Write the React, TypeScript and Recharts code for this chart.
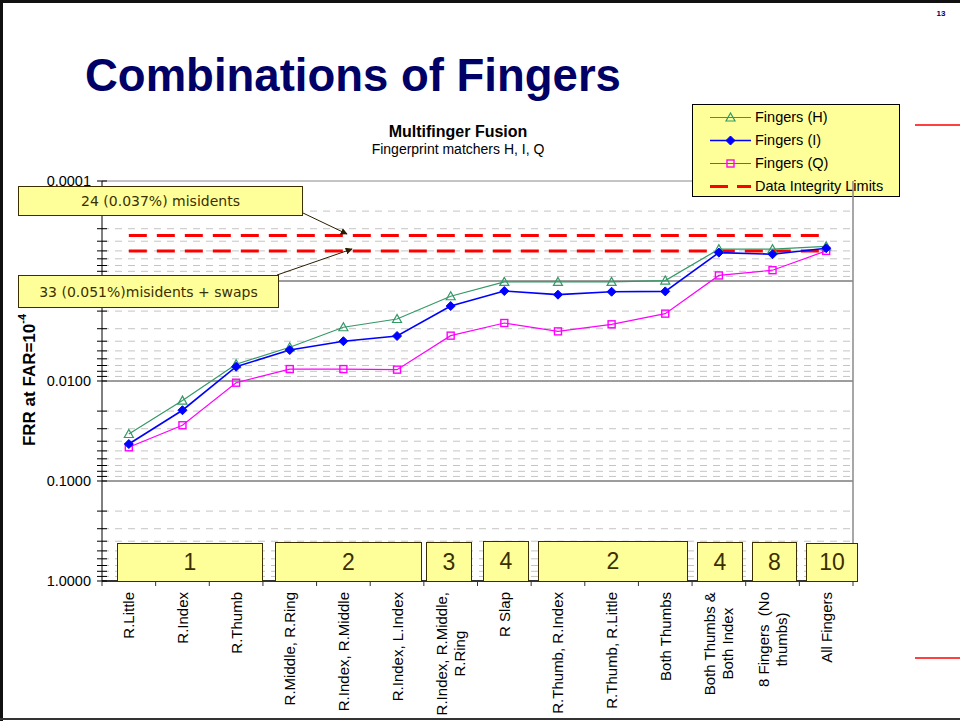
import React from 'react';
import { LineChart, Line, XAxis, YAxis, ReferenceLine, Legend } from 'recharts';

// ---------- data ----------
const categories = [
  'R.Little',
  'R.Index',
  'R.Thumb',
  'R.Middle, R.Ring',
  'R.Index, R.Middle',
  'R.Index, L.Index',
  'R.Index, R.Middle,\nR.Ring',
  'R Slap',
  'R.Thumb, R.Index',
  'R.Thumb, R.Little',
  'Both Thumbs',
  'Both Thumbs &\nBoth Index',
  '8 Fingers  (No\nthumbs)',
  'All Fingers',
];
const fingersH = [0.0339, 0.0157, 0.0068, 0.0046, 0.0029, 0.0024, 0.00142, 0.00102, 0.00102, 0.00102, 0.00099, 0.00048, 0.00048, 0.00045];
const fingersI = [0.0427, 0.0196, 0.0072, 0.0049, 0.0040, 0.00355, 0.00178, 0.00126, 0.00137, 0.00128, 0.00127, 0.00052, 0.00054, 0.00047];
const fingersQ = [0.046, 0.0277, 0.0104, 0.0076, 0.0076, 0.0077, 0.00352, 0.00263, 0.00319, 0.00271, 0.00212, 0.00088, 0.00078, 0.0005];
const limitMisidents = 0.00035;
const limitSwaps = 0.0005;

const yMajorTicks = [0.0001, 0.001, 0.01, 0.1, 1];
const yMinorTicks = [
  0.0002, 0.0003, 0.0004, 0.0005, 0.0006, 0.0007, 0.0008, 0.0009,
  0.002, 0.003, 0.004, 0.005, 0.006, 0.007, 0.008, 0.009,
  0.02, 0.03, 0.04, 0.05, 0.06, 0.07, 0.08, 0.09,
  0.2, 0.3, 0.4, 0.5, 0.6, 0.7, 0.8, 0.9,
];
const groupLabels = ['1', '2', '3', '4', '2', '4', '8', '10'];
const legendLabels = ['Fingers (H)', 'Fingers (I)', 'Fingers (Q)', 'Data Integrity Limits'];
const annotationTexts = ['24 (0.037%) misidents', '33 (0.051%)misidents + swaps'];

// ---------- layout ----------
const W = 960;
const H = 721;
const PLOT_L = 102;
const PLOT_R = 853;
const PLOT_T = 181;
const PLOT_B = 581;
const BAND = (PLOT_R - PLOT_L) / categories.length;
const PAD = BAND / 2;

const groupBoxes = [
  { left: 117, top: 543, width: 146, height: 39 },
  { left: 275, top: 542, width: 147, height: 40 },
  { left: 426, top: 542, width: 46, height: 40 },
  { left: 483, top: 541, width: 46, height: 41 },
  { left: 538, top: 541, width: 150, height: 41 },
  { left: 697, top: 542, width: 46, height: 40 },
  { left: 752, top: 542, width: 45, height: 40 },
  { left: 806, top: 543, width: 52, height: 39 },
];
const annotationBoxes = [
  { left: 18, top: 186, width: 285, height: 30 },
  { left: 18, top: 275, width: 261, height: 33 },
];

const SANS = '"Liberation Sans", Arial, sans-serif';
const TAHOMA = '"DejaVu Sans", Verdana, sans-serif';
const YELLOW = '#FFFF99';
const BROWN = '#3b2f00';

const rows = categories.map((name, i) => ({
  name,
  h: fingersH[i],
  i: fingersI[i],
  q: fingersQ[i],
  limA: limitMisidents,
  limB: limitSwaps,
}));

let measureCtx: CanvasRenderingContext2D | null = null;
function textWidth(s: string, font: string): number {
  if (typeof document === 'undefined') return s.length * 7;
  if (!measureCtx) measureCtx = document.createElement('canvas').getContext('2d');
  if (!measureCtx) return s.length * 7;
  measureCtx.font = font;
  return measureCtx.measureText(s).width;
}

const isMajor = (v: number) => yMajorTicks.indexOf(v) >= 0;

const YTick = (props: any) => {
  const { x, y, payload } = props;
  const v = payload.value as number;
  const major = isMajor(v);
  return (
    <g>
      <line x1={x - 5} x2={x + 5} y1={y} y2={y} stroke="#000" strokeWidth={1} />
      {major && (
        <text x={x - 11} y={y} textAnchor="end" dominantBaseline="central" fontFamily={SANS} fontSize={14.5} fill="#000">
          {v.toFixed(4)}
        </text>
      )}
    </g>
  );
};

const XTick = (props: any) => {
  const { x, y, payload, index } = props;
  const lines = String(payload.value).split('\n');
  const font = `15px ${SANS}`;
  const wMax = Math.max(...lines.map((l) => textWidth(l, font)));
  const lh = 18;
  const ty = y + 11;
  return (
    <g>
      <line x1={x - PAD} x2={x - PAD} y1={y} y2={y + 5} stroke="#333" />
      {index === categories.length - 1 && <line x1={x + PAD} x2={x + PAD} y1={y} y2={y + 5} stroke="#333" />}
      <g transform={`translate(${x},${ty}) rotate(-90)`}>
        {lines.map((l, k) => (
          <text
            key={k}
            x={lines.length > 1 ? -wMax / 2 : 0}
            y={(k - (lines.length - 1) / 2) * lh}
            textAnchor={lines.length > 1 ? 'middle' : 'end'}
            dominantBaseline="central"
            fontFamily={SANS}
            fontSize={15}
            fill="#000"
            style={{ whiteSpace: 'pre' }}
          >
            {l}
          </text>
        ))}
      </g>
    </g>
  );
};

const TriangleDot = (props: any) => {
  const { cx, cy } = props;
  if (cx == null || cy == null) return null;
  return (
    <polygon
      points={`${cx},${cy - 4.5} ${cx - 4.5},${cy + 3.5} ${cx + 4.5},${cy + 3.5}`}
      fill="none"
      stroke="#339966"
      strokeWidth={1.2}
    />
  );
};
const DiamondDot = (props: any) => {
  const { cx, cy } = props;
  if (cx == null || cy == null) return null;
  return <polygon points={`${cx},${cy - 4.5} ${cx + 4.5},${cy} ${cx},${cy + 4.5} ${cx - 4.5},${cy}`} fill="#0000FF" stroke="#0000FF" />;
};
const SquareDot = (props: any) => {
  const { cx, cy } = props;
  if (cx == null || cy == null) return null;
  return <rect x={cx - 3.5} y={cy - 3.5} width={7} height={7} fill="none" stroke="#FF00FF" strokeWidth={1.4} />;
};

const LegendSymbol = ({ idx }: { idx: number }) => {
  if (idx === 3) {
    return (
      <svg width={46} height={23}>
        <line x1={3} x2={21} y1={11.5} y2={11.5} stroke="#FF0000" strokeWidth={3} />
        <line x1={30} x2={44} y1={11.5} y2={11.5} stroke="#FF0000" strokeWidth={3} />
      </svg>
    );
  }
  const colors = ['#339966', '#0000FF', '#FF00FF'];
  const c = colors[idx];
  return (
    <svg width={46} height={23}>
      <line x1={3} x2={44} y1={11.5} y2={11.5} stroke={c} strokeWidth={idx === 1 ? 1.5 : 1.2} />
      {idx === 0 && <TriangleDot cx={23.5} cy={11.5} />}
      {idx === 1 && <DiamondDot cx={23.5} cy={11.5} />}
      {idx === 2 && <SquareDot cx={23.5} cy={11.5} />}
    </svg>
  );
};

const LegendBox = () => (
  <div
    style={{
      width: 208,
      height: 93,
      boxSizing: 'border-box',
      background: YELLOW,
      border: '1.5px solid #000',
      paddingTop: 1,
    }}
  >
    {legendLabels.map((label, idx) => (
      <div key={label} style={{ display: 'flex', alignItems: 'center', height: 23, paddingLeft: 14 }}>
        <LegendSymbol idx={idx} />
        <span style={{ fontFamily: SANS, fontSize: 14.5, color: '#000', marginLeft: 2, lineHeight: '23px' }}>{label}</span>
      </div>
    ))}
  </div>
);

export default function App() {
  return (
    <div
      style={{
        position: 'absolute',
        left: 0,
        top: 0,
        width: W,
        height: H,
        background: '#fff',
        overflow: 'hidden',
        fontFamily: SANS,
      }}
    >
      <LineChart
        width={W}
        height={H}
        data={rows}
        margin={{ top: PLOT_T, right: W - PLOT_R, bottom: 5, left: PLOT_L - 60 }}
      >
        <XAxis
          dataKey="name"
          interval={0}
          height={135}
          padding={{ left: PAD, right: PAD }}
          tickLine={false}
          tickSize={0}
          tickMargin={0}
          tick={<XTick />}
          axisLine={{ stroke: '#333', strokeWidth: 2 }}
        />
        <YAxis
          type="number"
          scale="log"
          domain={[0.0001, 1]}
          reversed
          allowDataOverflow
          ticks={[...yMajorTicks, ...yMinorTicks]}
          interval={0}
          width={60}
          tickLine={false}
          tickSize={0}
          tickMargin={0}
          tick={<YTick />}
          axisLine={{ stroke: '#000', strokeWidth: 1 }}
        />
        {yMinorTicks.map((v) => (
          <ReferenceLine key={`m${v}`} y={v} stroke="#c4c4c4" strokeDasharray="7 6" strokeWidth={1} />
        ))}
        {yMajorTicks.slice(1, 4).map((v) => (
          <ReferenceLine key={`M${v}`} y={v} stroke="#3a3a3a" strokeWidth={1} />
        ))}
        <ReferenceLine y={0.0001} stroke="#8a8a8a" strokeWidth={1} />
        <Legend
          layout="horizontal"
          verticalAlign="middle"
          align="center"
          content={<LegendBox />}
          wrapperStyle={{ position: 'absolute', left: 692, top: 104, width: 208, height: 93 }}
        />
        <Line dataKey="limA" stroke="#FF0000" strokeWidth={3} strokeDasharray="18 10" dot={false} activeDot={false} isAnimationActive={false} legendType="none" />
        <Line dataKey="limB" stroke="#FF0000" strokeWidth={3} strokeDasharray="18 10" dot={false} activeDot={false} isAnimationActive={false} legendType="none" />
        <Line dataKey="q" stroke="#FF00FF" strokeWidth={1.2} dot={<SquareDot />} activeDot={false} isAnimationActive={false} />
        <Line dataKey="h" stroke="#339966" strokeWidth={1.2} dot={<TriangleDot />} activeDot={false} isAnimationActive={false} />
        <Line dataKey="i" stroke="#0000FF" strokeWidth={1.6} dot={<DiamondDot />} activeDot={false} isAnimationActive={false} />
      </LineChart>

      {/* decorations */}
      <svg width={W} height={H} style={{ position: 'absolute', left: 0, top: 0, pointerEvents: 'none' }}>
        <defs>
          <marker id="arr" viewBox="0 0 10 10" refX="9" refY="5" markerWidth="7" markerHeight="7" orient="auto-start-reverse">
            <path d="M0,0 L10,5 L0,10 z" fill="#2b1d00" />
          </marker>
        </defs>
        {/* plot right border */}
        <line x1={PLOT_R} x2={PLOT_R} y1={PLOT_T} y2={PLOT_B} stroke="#8a8a8a" strokeWidth={1.5} />
        {/* slide frame */}
        <line x1={1.5} x2={1.5} y1={0} y2={H} stroke="#111" strokeWidth={3} />
        <line x1={0} x2={W} y1={1.5} y2={1.5} stroke="#111" strokeWidth={3} />
        <line x1={0} x2={W} y1={719} y2={719} stroke="#333" strokeWidth={2} />
        {/* red accents */}
        <line x1={915} x2={W} y1={125} y2={125} stroke="#FF0000" strokeWidth={1.3} />
        <line x1={915} x2={W} y1={658} y2={658} stroke="#FF0000" strokeWidth={1.3} />
        {/* slide number */}
        <text x={941} y={16} textAnchor="middle" fontFamily={SANS} fontWeight="bold" fontSize={8} fill="#000066">13</text>
        {/* slide title */}
        <text x={85} y={91} fontFamily={SANS} fontWeight="bold" fontSize={45.5} fill="#000066">Combinations of Fingers</text>
        {/* chart titles */}
        <text x={458} y={137} textAnchor="middle" fontFamily={SANS} fontWeight="bold" fontSize={16} fill="#000">Multifinger Fusion</text>
        <text x={458} y={154} textAnchor="middle" fontFamily={SANS} fontSize={14} fill="#000">Fingerprint matchers H, I, Q</text>
        {/* y axis title */}
        <text transform="translate(29,380) rotate(-90)" textAnchor="middle" dominantBaseline="central" fontFamily={SANS} fontWeight="bold" fontSize={17} fill="#000">
          FRR at FAR=10<tspan dy={-7} fontSize={11}>-4</tspan>
        </text>
        {/* arrows */}
        <line x1={303} y1={213} x2={347} y2={234} stroke="#2b1d00" strokeWidth={1} markerEnd="url(#arr)" />
        <line x1={277} y1={275} x2={352} y2={249} stroke="#2b1d00" strokeWidth={1} markerEnd="url(#arr)" />
      </svg>

      {annotationBoxes.map((b, k) => (
        <div
          key={k}
          style={{
            position: 'absolute',
            left: b.left,
            top: b.top,
            width: b.width,
            height: b.height,
            boxSizing: 'border-box',
            background: YELLOW,
            border: `1px solid ${BROWN}`,
            display: 'flex',
            alignItems: 'center',
            justifyContent: 'center',
            fontFamily: TAHOMA,
            fontSize: 14,
            color: BROWN,
            whiteSpace: 'pre',
          }}
        >
          {annotationTexts[k]}
        </div>
      ))}

      {groupBoxes.map((b, k) => (
        <div
          key={k}
          style={{
            position: 'absolute',
            left: b.left,
            top: b.top,
            width: b.width,
            height: b.height,
            boxSizing: 'border-box',
            background: YELLOW,
            border: `1px solid ${BROWN}`,
            display: 'flex',
            alignItems: 'center',
            justifyContent: 'center',
            fontFamily: SANS,
            fontSize: 23,
            color: BROWN,
          }}
        >
          {groupLabels[k]}
        </div>
      ))}
    </div>
  );
}
